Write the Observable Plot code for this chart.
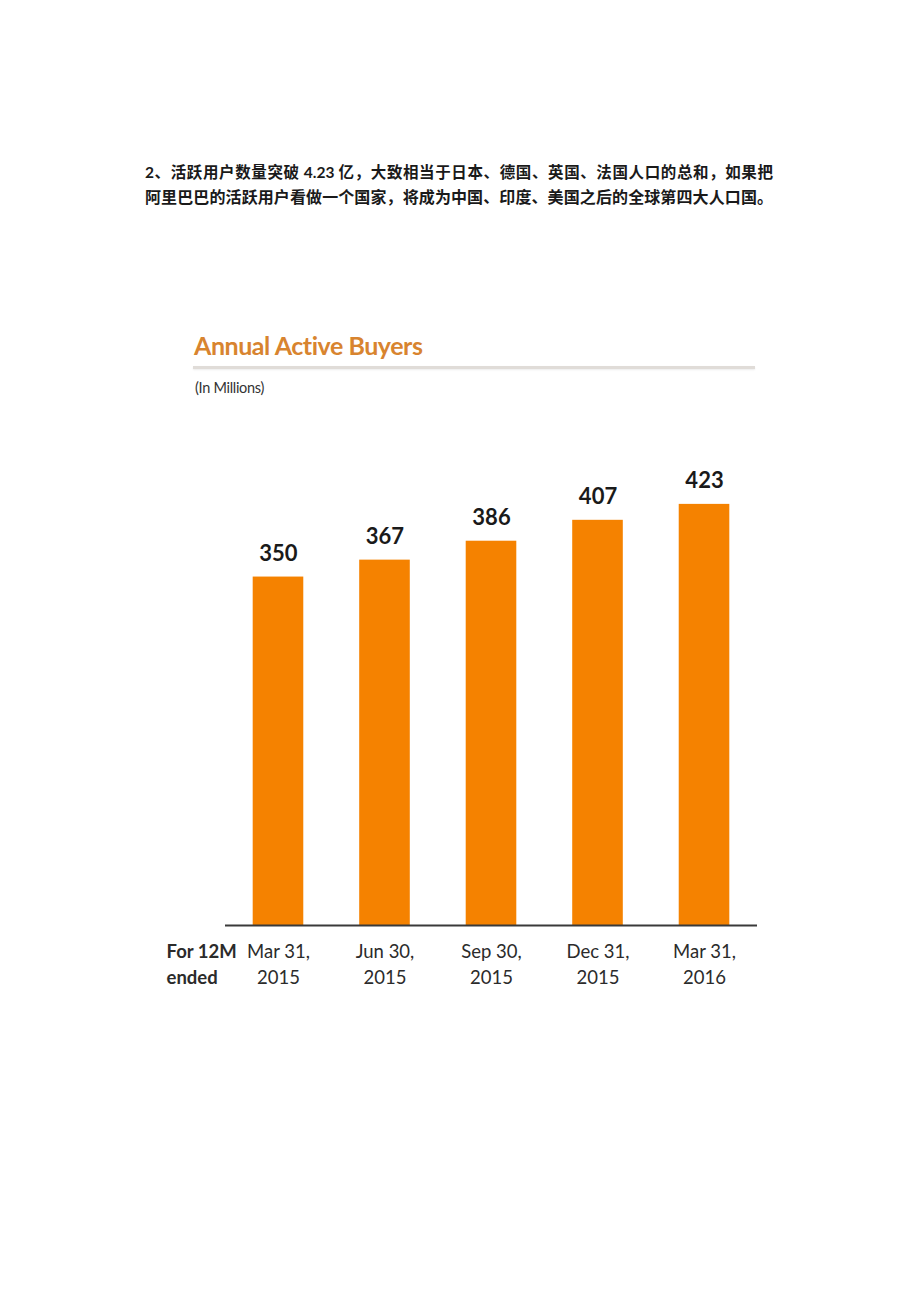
<!DOCTYPE html>
<html>
<head>
<meta charset="utf-8">
<script src="https://cdn.jsdelivr.net/npm/d3@7"></script>
<script src="https://cdn.jsdelivr.net/npm/@observablehq/plot@0.6"></script>
<style>
  html, body { margin: 0; padding: 0; background: #fff; }
  #page { position: relative; width: 920px; height: 1302px; background: #fff; overflow: hidden; }
  .cn { position: absolute; left: 145px; width: 628px; font-family: "Noto Sans CJK SC", Lato, sans-serif; font-weight: 700; color: #1a1a1a; text-align: justify; text-align-last: justify; white-space: nowrap; line-height: 25px; }
  .cn .lat { font-family: Lato, "Noto Sans CJK SC", sans-serif; font-weight: 700; }
  #title { position: absolute; left: 194px; top: 330px; font-family: Lato, sans-serif; font-weight: 700; font-size: 25px; color: #d8842f; letter-spacing: -0.45px; line-height: 30px; }
  #rule { position: absolute; left: 193px; top: 366px; width: 562px; height: 3px; background: #e0dcd8; box-shadow: 0 1px 2px rgba(0,0,0,0.08); }
  #unit { position: absolute; left: 195px; top: 379px; font-family: Lato, sans-serif; font-size: 14.5px; color: #333; line-height: 17px; letter-spacing: -0.3px; }
  #chart { position: absolute; left: 0; top: 400px; }
</style>
</head>
<body>
<div id="page">
  <div class="cn" style="top:159px; font-size:15.5px"><span class="lat">2</span>、活跃用户数量突破 <span class="lat">4.23</span> 亿，大致相当于日本、德国、英国、法国人口的总和，如果把</div>
  <div class="cn" style="top:184px; font-size:16px">阿里巴巴的活跃用户看做一个国家，将成为中国、印度、美国之后的全球第四大人口国。</div>
  <div id="title">Annual Active Buyers</div>
  <div id="rule"></div>
  <div id="unit">(In Millions)</div>
  <div id="chart"></div>
</div>
<script>
const periods = ["Mar 31,\n2015", "Jun 30,\n2015", "Sep 30,\n2015", "Dec 31,\n2015", "Mar 31,\n2016"];
const buyers = [350, 367, 386, 407, 423];
const rowLabel = ["For 12M\nended"];
const barColor = "#F58200";

const data = periods.map((p, i) => ({period: p, value: buyers[i]}));

const chart = Plot.plot({
  width: 920,
  height: 620,
  marginLeft: 225,
  marginRight: 163,
  marginTop: 77,
  marginBottom: 95,
  style: {fontFamily: "Lato, sans-serif", background: "white", color: "#2b2b2b", overflow: "visible"},
  x: {domain: periods, paddingInner: 0.525, paddingOuter: 0.26, round: false, label: null},
  y: {domain: [0, 450], axis: null},
  marks: [
    Plot.barY(data, {x: "period", y: "value", fill: barColor}),
    Plot.ruleY([0], {stroke: "#3a3a3a", strokeWidth: 2}),
    Plot.text(data, {x: "period", y: "value", text: d => String(d.value), dy: -16, lineAnchor: "bottom", fontSize: 22, fontWeight: "bold", fill: "#1a1a1a"}),
    Plot.axisX({tickSize: 0, tickPadding: 13, fontSize: 18.5, lineHeight: 1.45, letterSpacing: "-1.1px"}),
    Plot.text(rowLabel, {frameAnchor: "bottom-left", text: d => d, textAnchor: "start", lineAnchor: "top", dx: -59, dy: 13, fontSize: 18.5, fontWeight: "bold", lineHeight: 1.45, letterSpacing: "-0.4px", fill: "#2b2b2b"})
  ]
});
document.getElementById("chart").appendChild(chart);
</script>
</body>
</html>
